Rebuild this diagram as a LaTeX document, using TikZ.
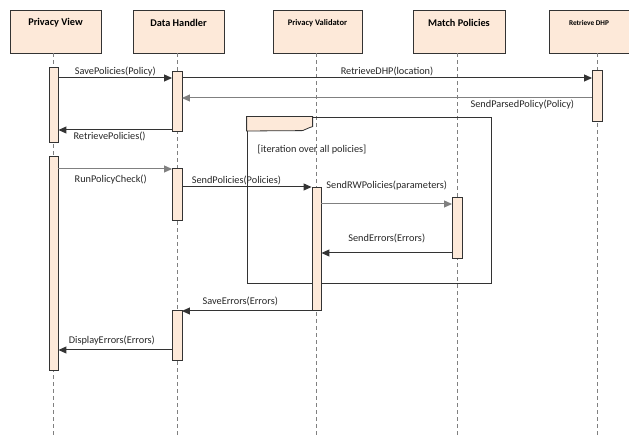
\documentclass[tikz,border=0pt]{standalone}
\usepackage{fontspec}
\setmainfont{Carlito}
\usepackage{tikz}
\usetikzlibrary{arrows.meta}
\definecolor{peach}{HTML}{FDE9D9}
\definecolor{edge}{HTML}{333333}

\begin{document}
\begin{tikzpicture}[x=1pt,y=-1pt,
  head/.style={draw=edge,fill=peach,minimum height=43pt,inner sep=0pt},
  act/.style={draw=edge,fill=peach,minimum width=9.5pt,inner sep=0pt},
  life/.style={gray,line width=1pt,dash pattern=on 4pt off 3pt},
  msg/.style={edge,line width=1pt,-{Triangle[length=8pt,width=7pt]}},
  lbl/.style={font=\fontsize{10.3}{11}\selectfont,text=black!85,inner sep=1.5pt}]
\useasboundingbox (0,0) rectangle (629,435);

% Header boxes of the participants
\foreach \n/\x/\w/\s/\t in {pv/55.5/91/10.3/Privacy View, dh/178.5/91/10.3/Data Handler,
    vl/317.5/89/8.5/Privacy Validator, mp/459/92/10.3/Match Policies, rd/589/80/7.3/Retrieve DHP} {
    \node[head,minimum width=\w pt,
      label={[font=\bfseries\fontsize{\s}{\s}\selectfont,text=black,anchor=center,inner sep=0pt,yshift=-13pt]north:\t}]
      (\n) at (\x,31.5) {};
}
% Lifelines
\foreach \n/\x in {pv/53.5, dh/177, vl/316.5, mp/457, rd/597} {
    \coordinate (\n-end) at (\x,435);
    \draw[life] (\n.south -| \n-end) -- (\n-end);
}

% Loop frame with its tab
\node[draw=black!80,line width=0.8pt,minimum width=244pt,minimum height=166pt,inner sep=0pt] (loop) at (369,200) {};
\filldraw[fill=peach,draw=edge,line width=0.8pt] (loop.north west) -- ++(66,0) -- ++(0,10) -- ++(-3,1) -- ++(-7,3) -- (loop.north west |- 0,131) -- cycle;
\node[lbl,anchor=west] (cond) at (256,150) {[iteration over all policies]};

% Activation bars
\foreach \n/\x/\y/\h in {pva/53.5/104.5/75, pvb/53.5/263/214, dha/177/101/60, dhb/177/194/52,
    dhc/177/335/50, vla/316.5/248.5/123, mpa/457/227.5/61, rda/597/95.5/51} {
    \node[act,minimum height=\h pt] (\n) at (\x,\y) {};
}

% Message levels
\foreach \m/\y in {m1/78, m2/98, m3/130, m4/169, m5/187, m6/204, m7/253, m8/311, m9/350} {
    \coordinate (\m) at (0,\y);
}

% Messages
\draw[msg] (pva.east |- m1) -- node[lbl,above] {SavePolicies(Policy)} (dha.west |- m1);
\draw[msg] (dha.east |- m1) -- node[lbl,above] {RetrieveDHP(location)} (rda.west |- m1);
\draw[msg,gray] (rda.west |- m2) -- node[lbl,below,pos=0.17] {SendParsedPolicy(Policy)} (dha.east |- m2);
\draw[msg] (dha.west |- m3) -- node[lbl,below,pos=0.55] {RetrievePolicies()} (pva.east |- m3);
\draw[msg,gray] (pvb.east |- m4) -- node[lbl,below=4pt,pos=0.46] {RunPolicyCheck()} (dhb.west |- m4);
\draw[msg] (dhb.east |- m5) -- node[lbl,above,pos=0.42] {SendPolicies(Policies)} (vla.west |- m5);
\draw[msg,gray] (vla.east |- m6) -- node[lbl,above=12pt] {SendRWPolicies(parameters)} (mpa.west |- m6);
\draw[msg] (mpa.west |- m7) -- node[lbl,above=8pt] {SendErrors(Errors)} (vla.east |- m7);
\draw[msg] (vla.west |- m8) -- node[lbl,above=3pt,pos=0.55] {SaveErrors(Errors)} (dhc.east |- m8);
\draw[msg] (dhc.west |- m9) -- node[lbl,above=3pt,pos=0.53] {DisplayErrors(Errors)} (pvb.east |- m9);
\end{tikzpicture}
\end{document}
